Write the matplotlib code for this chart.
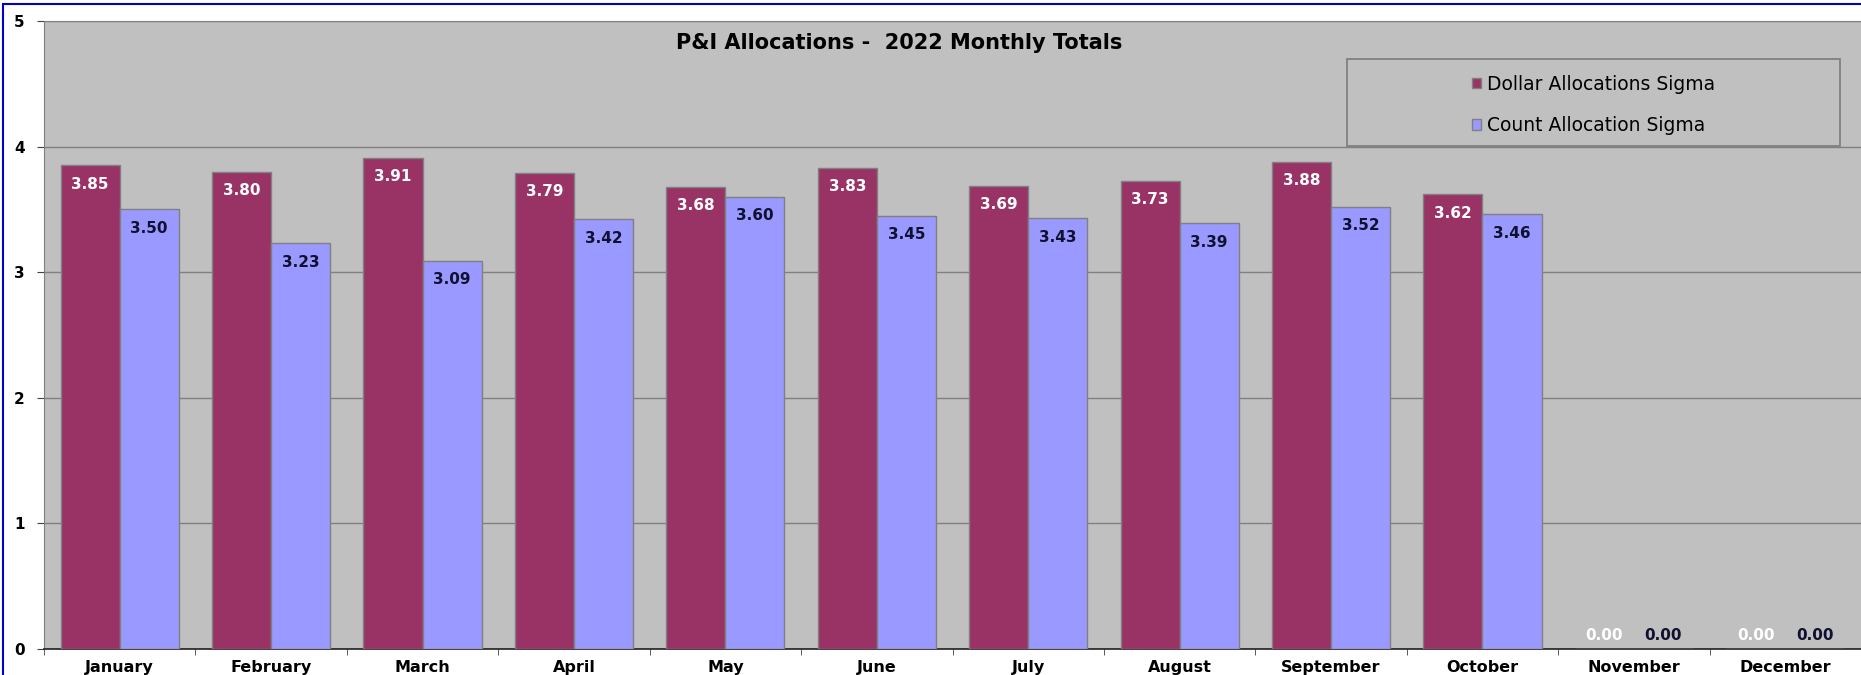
import numpy as np
import matplotlib
matplotlib.use("Agg")
import matplotlib.pyplot as plt
from matplotlib.patches import Rectangle

# the Excel text is wide, DejaVu is closer than Arial here
plt.rcParams['font.family'] = ['DejaVu Sans']

months = ['January', 'February', 'March', 'April', 'May', 'June', 'July',
          'August', 'September', 'October', 'November', 'December']
dollar = [3.85, 3.80, 3.91, 3.79, 3.68, 3.83, 3.69, 3.73, 3.88, 3.62, 0.00, 0.00]
count = [3.50, 3.23, 3.09, 3.42, 3.60, 3.45, 3.43, 3.39, 3.52, 3.46, 0.00, 0.00]
yticks = [0, 1, 2, 3, 4, 5]

c_dollar = '#993366'
c_count = '#9999FF'
bg = '#C0C0C0'
grid_c = '#808080'

fig = plt.figure(figsize=(18.61, 6.75), dpi=100)
ax = fig.add_axes([44 / 1861, 26 / 675, 1 - 44 / 1861, 628 / 675])
ax.set_facecolor(bg)

x = np.arange(len(months))
w = 0.39
b1 = ax.bar(x - w / 2, dollar, w, color=c_dollar, edgecolor=grid_c, linewidth=1,
            label='Dollar Allocations Sigma', zorder=3)
b2 = ax.bar(x + w / 2, count, w, color=c_count, edgecolor=grid_c, linewidth=1,
            label='Count Allocation Sigma', zorder=3)

# data labels
for bars, vals, col in [(b1, dollar, 'white'), (b2, count, '#101030')]:
    for r, v in zip(bars, vals):
        off = -19 if v > 0 else 13
        ax.annotate('{:.2f}'.format(v), (r.get_x() + r.get_width() / 2, v),
                    xytext=(0, off), textcoords='offset pixels',
                    ha='center', va='center', color=col,
                    fontsize=11, fontweight='bold', zorder=4)

ax.set_xlim(-0.5, len(months) - 0.5)
ax.set_ylim(0, 5)
ax.set_yticks(yticks)
ax.set_yticklabels([str(t) for t in yticks], fontweight='bold', fontsize=11)
ax.yaxis.grid(True, color=grid_c, linewidth=1, zorder=0)

ax.set_xticks(x)
ax.set_xticklabels(months, fontweight='bold', fontsize=11.5, va='baseline')
ax.set_xticks(np.arange(len(months) + 1) - 0.5, minor=True)
ax.tick_params(axis='x', which='major', length=0, pad=16.5)
ax.tick_params(axis='x', which='minor', length=4, color='#404040', direction='out')
ax.tick_params(axis='y', length=5, color='#404040', pad=9)

ax.spines['right'].set_visible(False)
ax.spines['top'].set_color(grid_c)
ax.spines['left'].set_color(grid_c)
ax.spines['bottom'].set_color('#202020')
ax.spines['bottom'].set_linewidth(1.2)

ax.text(0.4705, 0.965, 'P&I Allocations -  2022 Monthly Totals', transform=ax.transAxes,
        ha='center', va='center', fontsize=15, fontweight='bold', color='black')

# legend box
lx0, lx1 = (1347 - 44) / 1817, (1840 - 44) / 1817
ly0, ly1 = (649 - 146) / 628, (649 - 59) / 628
ax.add_patch(Rectangle((lx0, ly0), lx1 - lx0, ly1 - ly0, transform=ax.transAxes,
                       facecolor='none', edgecolor=grid_c, linewidth=1.3, zorder=5,
                       clip_on=False))
ax.legend(loc='center', bbox_to_anchor=((lx0 + lx1) / 2, (ly0 + ly1) / 2 - 0.004),
          frameon=False, fontsize=13.5, handlelength=0.5, handleheight=0.5,
          handletextpad=0.3, labelspacing=1.2)

# blue frame
fig.add_artist(Rectangle((3 / 1861, -0.1), 1.2, 1.1 - 4 / 675, transform=fig.transFigure,
                         facecolor='none', edgecolor='#0000CC', linewidth=1.5))

fig.savefig('out.png', dpi=100)
